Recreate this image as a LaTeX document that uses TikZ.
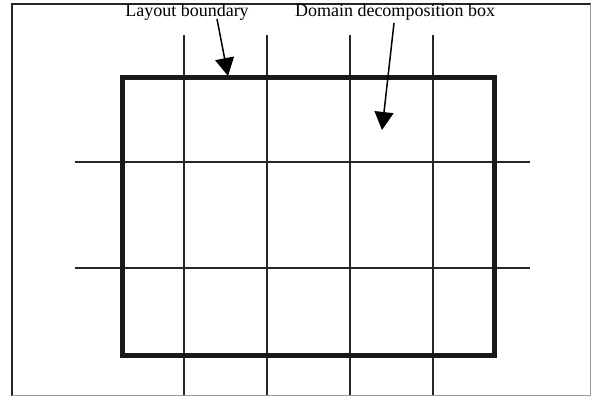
\documentclass[tikz,border=0pt]{standalone}
\usepackage{fontspec}
\setmainfont{Liberation Serif}
\usetikzlibrary{arrows.meta}
\begin{document}
\begin{tikzpicture}[x=1pt,y=-1pt,
  gridline/.style={line width=1.3pt,black!85},
  bound/.style={line width=5pt,black!90},
  callout/.style={line width=1.5pt,-{Triangle[length=18pt,width=19pt]}},
  lbl/.style={font=\fontsize{18}{20}\selectfont,inner sep=0pt}]
\useasboundingbox (0,0) rectangle (591,396);
% frame
\draw[line width=2pt,black!85] (12,396) -- (12,4) -- (591,4);
\draw[line width=1pt,black!40] (590,4) -- (590,395) -- (12,395);
% grid
\foreach \x in {184,267,350,433} \draw[gridline] (\x,35) -- (\x,395);
\foreach \y in {162,268} \draw[gridline] (75,\y) -- (530,\y);
% layout boundary
\draw[bound] (122,77) rectangle (494,355);
% labels
\node[lbl,anchor=base] (lb) at (187,17) {Layout boundary};
\node[lbl,anchor=base] (dd) at (395,17) {Domain decomposition box};
\coordinate (lbs) at (217,19);
\coordinate (lbt) at (228,76);
\coordinate (dds) at (394,23);
\coordinate (ddt) at (382,130);
\draw[callout] (lbs) -- (lbt);
\draw[callout] (dds) -- (ddt);
\end{tikzpicture}
\end{document}
